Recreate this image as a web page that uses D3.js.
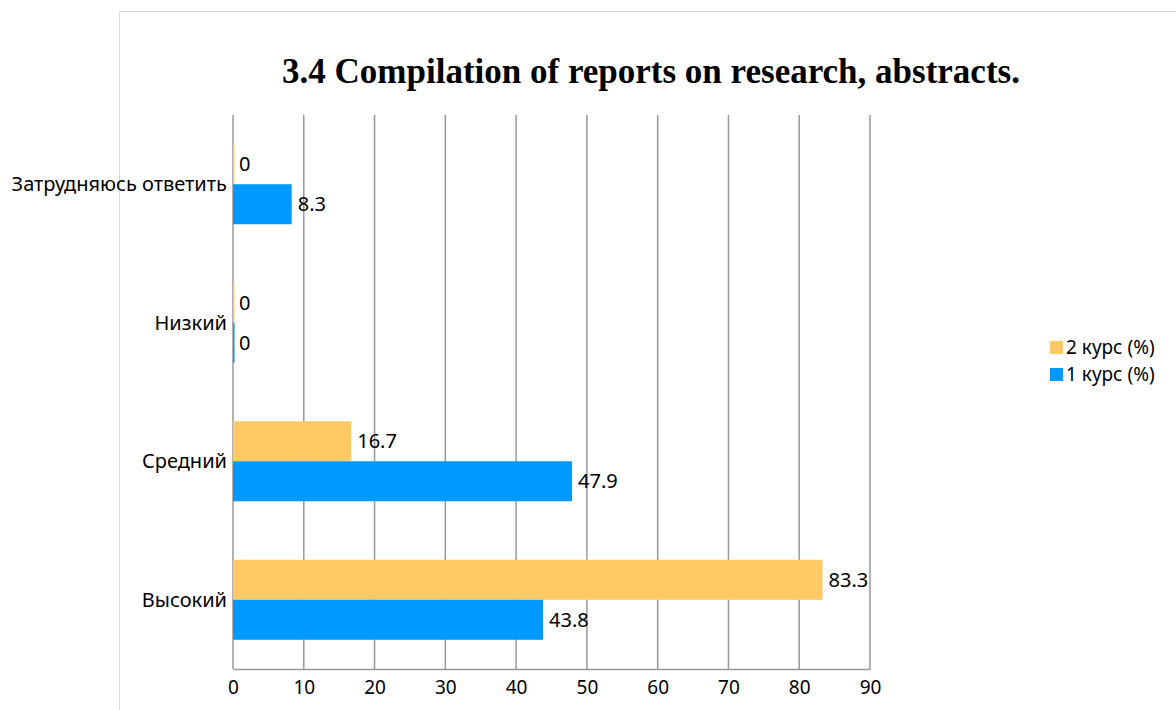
<!DOCTYPE html>
<html><head><meta charset="utf-8">
<script src="https://cdn.jsdelivr.net/npm/d3@7"></script>
<style>body{margin:0;background:#fff}svg{display:block}</style>
</head><body>
<svg id="c" width="1176" height="710"></svg>
<script>
const categories = ["Затрудняюсь ответить", "Низкий", "Средний", "Высокий"];
const seriesNames = ["2 курс (%)", "1 курс (%)"];
const course2 = [0, 0, 16.7, 83.3];
const course1 = [8.3, 0, 47.9, 43.8];
const xTicks = [0, 10, 20, 30, 40, 50, 60, 70, 80, 90];
const title = "3.4 Compilation of reports on research, abstracts.";

const colors = ["#FFC966", "#0099FF"];
const font = "'Noto Sans', 'Open Sans', sans-serif";
const svg = d3.select("#c");

// outer chart border
svg.append("path").attr("d", "M119.5,710 V11.5 H1176").attr("fill", "none").attr("stroke", "#d9d9d9").attr("stroke-width", 1);

const m = {l: 233, r: 870, t: 115, b: 669};
const x = d3.scaleLinear().domain([0, 90]).range([m.l, m.r]);
const y = d3.scaleBand().domain(categories).range([m.t, m.b]);
const sub = d3.scaleBand().domain(seriesNames).range([y.bandwidth()/2 - 40, y.bandwidth()/2 + 40]);

svg.append("text").attr("x", 651).attr("y", 83).attr("text-anchor", "middle")
  .attr("font-family", "'Liberation Serif','Times New Roman',serif").attr("font-weight", "bold")
  .attr("font-size", 35).attr("fill", "#000").text(title);

// gridlines
svg.append("g").selectAll("line").data(xTicks).join("line")
  .attr("x1", d => x(d)).attr("x2", d => x(d)).attr("y1", m.t).attr("y2", m.b)
  .attr("stroke", "#999").attr("stroke-width", 1.5);

// bottom axis
const ax = svg.append("g").attr("transform", `translate(0,${m.b})`)
  .call(d3.axisBottom(x).tickValues(xTicks).tickSize(0).tickPadding(12).tickFormat(d3.format("d")));
ax.select(".domain").attr("stroke", "#999").attr("stroke-width", 1.5);
ax.selectAll("text").attr("font-family", font).attr("font-size", 19).attr("fill", "#000");

const data = [];
categories.forEach((c, i) => {
  data.push({cat: c, s: seriesNames[0], v: course2[i], col: colors[0]});
  data.push({cat: c, s: seriesNames[1], v: course1[i], col: colors[1]});
});

svg.append("g").selectAll("rect").data(data).join("rect")
  .attr("x", x(0)).attr("y", d => y(d.cat) + sub(d.s))
  .attr("width", d => Math.max(x(d.v) - x(0), 1.5)).attr("height", sub.bandwidth())
  .attr("fill", d => d.col);

svg.append("g").selectAll("text").data(data).join("text")
  .attr("x", d => x(d.v) + 6).attr("y", d => y(d.cat) + sub(d.s) + sub.bandwidth()/2)
  .attr("dy", "0.35em").attr("font-family", font).attr("font-size", 20).attr("fill", "#000")
  .text(d => d.v);

// category labels
svg.append("g").selectAll("text").data(categories).join("text")
  .attr("x", m.l - 6).attr("y", d => y(d) + y.bandwidth()/2)
  .attr("dy", "0.35em").attr("text-anchor", "end").attr("font-family", font).attr("font-size", 20)
  .attr("fill", "#000").text(d => d);

// legend
const lg = svg.append("g").attr("transform", "translate(1050,341)");
seriesNames.forEach((s, i) => {
  lg.append("rect").attr("x", 0).attr("y", i * 27).attr("width", 13).attr("height", 13).attr("fill", colors[i]);
  lg.append("text").attr("x", 16).attr("y", i * 27 + 6.5).attr("dy", "0.35em")
    .attr("font-family", font).attr("font-size", 19).attr("fill", "#000").text(s);
});
</script>
</body></html>
